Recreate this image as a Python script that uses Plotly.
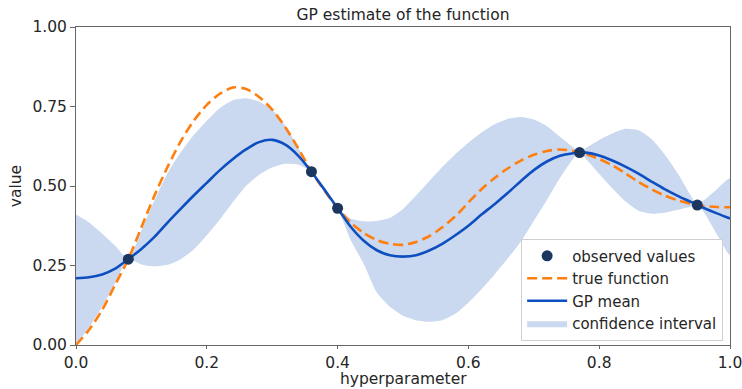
import plotly.graph_objects as go

# ---- data ----
x_grid = [0.00, 0.02, 0.04, 0.06, 0.08, 0.10, 0.12, 0.14, 0.16, 0.18, 0.20, 0.22, 0.24, 0.26,
          0.28, 0.30, 0.32, 0.34, 0.36, 0.38, 0.40, 0.42, 0.44, 0.46, 0.48, 0.50, 0.52, 0.54,
          0.56, 0.58, 0.60, 0.62, 0.64, 0.66, 0.68, 0.70, 0.72, 0.74, 0.76, 0.77, 0.78, 0.80,
          0.82, 0.84, 0.86, 0.88, 0.90, 0.92, 0.94, 0.95, 0.96, 0.98, 1.00]

gp_mean = [0.210, 0.213, 0.222, 0.240, 0.270, 0.302, 0.340, 0.385, 0.428, 0.470, 0.510, 0.550,
           0.585, 0.615, 0.638, 0.645, 0.630, 0.595, 0.545, 0.488, 0.430, 0.372, 0.328, 0.298,
           0.282, 0.278, 0.282, 0.297, 0.318, 0.345, 0.375, 0.410, 0.443, 0.478, 0.515, 0.550,
           0.577, 0.595, 0.603, 0.605, 0.605, 0.596, 0.580, 0.561, 0.539, 0.514, 0.490, 0.469,
           0.450, 0.440, 0.431, 0.414, 0.398]

true_fn = [0.000, 0.048, 0.110, 0.190, 0.270, 0.370, 0.470, 0.560, 0.640, 0.705, 0.755, 0.790,
           0.810, 0.805, 0.780, 0.740, 0.685, 0.618, 0.545, 0.485, 0.430, 0.385, 0.352, 0.330,
           0.318, 0.315, 0.324, 0.342, 0.370, 0.405, 0.448, 0.490, 0.525, 0.555, 0.580, 0.598,
           0.610, 0.615, 0.610, 0.605, 0.600, 0.585, 0.565, 0.540, 0.513, 0.490, 0.470, 0.455,
           0.444, 0.440, 0.437, 0.434, 0.433]

ci_upper = [0.410, 0.385, 0.350, 0.312, 0.270, 0.360, 0.455, 0.540, 0.605, 0.660, 0.705, 0.745,
            0.770, 0.776, 0.765, 0.740, 0.690, 0.620, 0.545, 0.497, 0.430, 0.398, 0.389, 0.390,
            0.400, 0.428, 0.470, 0.515, 0.560, 0.600, 0.636, 0.668, 0.694, 0.711, 0.717, 0.709,
            0.688, 0.655, 0.622, 0.605, 0.620, 0.645, 0.665, 0.680, 0.675, 0.648, 0.600, 0.540,
            0.470, 0.440, 0.455, 0.490, 0.524]

ci_lower = [0.000, 0.055, 0.120, 0.195, 0.270, 0.253, 0.247, 0.252, 0.270, 0.300, 0.345, 0.395,
            0.450, 0.500, 0.535, 0.558, 0.570, 0.567, 0.545, 0.480, 0.430, 0.330, 0.255, 0.165,
            0.120, 0.092, 0.078, 0.073, 0.078, 0.098, 0.133, 0.175, 0.222, 0.272, 0.325, 0.390,
            0.456, 0.525, 0.585, 0.605, 0.585, 0.538, 0.493, 0.452, 0.422, 0.413, 0.416, 0.425,
            0.435, 0.440, 0.418, 0.348, 0.283]

obs_x = [0.08, 0.36, 0.40, 0.77, 0.95]
obs_y = [0.270, 0.545, 0.430, 0.605, 0.440]

x_ticks = [0.0, 0.2, 0.4, 0.6, 0.8, 1.0]
y_ticks = [0.00, 0.25, 0.50, 0.75, 1.00]

FONT = "DejaVu Sans"
TXT = "#262626"

fig = go.Figure()

fig.add_trace(go.Scatter(
    x=x_grid + x_grid[::-1], y=ci_upper + ci_lower[::-1],
    fill="toself", fillcolor="rgb(203,217,240)", mode="lines",
    line=dict(width=0, color="rgba(0,0,0,0)", shape="spline", smoothing=0.6),
    name="confidence interval", legendrank=4, hoverinfo="skip"))

fig.add_trace(go.Scatter(
    x=x_grid, y=true_fn, mode="lines", name="true function", legendrank=2,
    line=dict(color="#ff7f0e", width=2.6, dash="10px,5px", shape="spline", smoothing=0.8)))

fig.add_trace(go.Scatter(
    x=x_grid, y=gp_mean, mode="lines", name="GP mean", legendrank=3,
    line=dict(color="#0d4fc0", width=2.6, shape="spline", smoothing=0.8)))

fig.add_trace(go.Scatter(
    x=obs_x, y=obs_y, mode="markers", name="observed values", legendrank=1,
    marker=dict(color="#1b365f", size=11)))

fig.update_layout(
    width=742, height=389,
    margin=dict(l=76, r=12, t=27, b=44, autoexpand=False),
    paper_bgcolor="white", plot_bgcolor="white",
    font=dict(family=FONT, size=15.5, color=TXT),
    title=dict(text="GP estimate of the function", x=0.5431, xanchor="center",
               y=0.962, yanchor="middle", font=dict(size=15.5, color=TXT)),
    legend=dict(x=0.9895, y=0.014, xanchor="right", yanchor="bottom",
                bgcolor="rgba(255,255,255,0.85)", bordercolor="#d0d0d0", borderwidth=1,
                font=dict(size=15, color=TXT), itemwidth=40),
    showlegend=True,
    annotations=[dict(text="hyperparameter", xref="paper", yref="paper",
                      x=0.5, y=-0.108, xanchor="center", yanchor="middle",
                      showarrow=False, font=dict(size=15.5, color=TXT))],
)

fig.update_xaxes(
    range=[0, 1], tickvals=x_ticks, ticktext=[f"{v:.1f}" for v in x_ticks],
    showgrid=False, zeroline=False, showline=True, linecolor="#666", linewidth=1,
    mirror=True, ticks="outside", ticklen=3, tickcolor="#666", automargin=False,
    ticklabeloverflow="allow")

fig.update_yaxes(
    range=[0, 1], tickvals=y_ticks, ticktext=[f"{v:.2f}" for v in y_ticks],
    showgrid=False, zeroline=False, showline=True, linecolor="#666", linewidth=1,
    mirror=True, ticks="outside", ticklen=5, tickcolor="#666", automargin=False,
    ticklabeloverflow="allow",
    title=dict(text="value", standoff=6, font=dict(size=15.5, color=TXT)))

fig.write_html("out.html")
